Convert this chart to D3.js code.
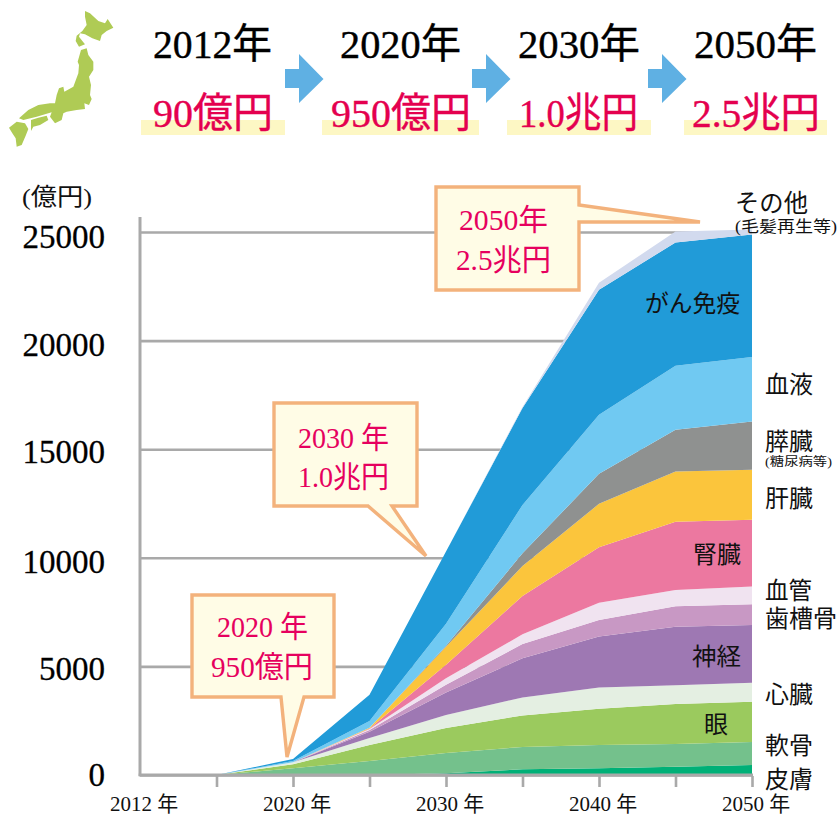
<!DOCTYPE html>
<html lang="ja"><head><meta charset="utf-8">
<script src="https://cdn.jsdelivr.net/npm/d3@7"></script>
<style>
html,body{margin:0;padding:0;background:#fff}
svg{display:block}
text{font-family:"Liberation Serif","Noto Sans CJK JP",serif}
</style></head><body>
<svg id="c" width="839" height="815"></svg>
<script>
// ---------- data (億円) ----------
const years = ["2012","2015","2020","2025","2030","2035","2040","2045","2050"];
const xTickLabels = {"2012":"2012 年","2020":"2020 年","2030":"2030 年","2040":"2040 年","2050":"2050 年"};
const yTicks = [0,5000,10000,15000,20000,25000];
const seriesNames = ["皮膚","軟骨","眼","心臓","神経","歯槽骨","血管","腎臓","肝臓","膵臓","血液","がん免疫","その他"];
const skin      = [0,0,0,0,80,260,310,380,460];
const cartilage = [0,0,309,650,935,1030,1075,1045,1060];
const eye       = [0,0,184,735,1150,1450,1660,1845,1855];
const heart     = [0,0,92,320,600,830,980,860,875];
const nerve     = [0,0,0,290,1030,1800,2350,2700,2660];
const alveolar  = [0,0,0,80,355,660,760,940,955];
const vessel    = [0,0,0,45,310,445,800,750,810];
const kidney    = [0,0,0,25,615,1765,2550,3135,3075];
const liver     = [0,0,0,25,830,1380,2000,2320,2305];
const pancreas  = [0,0,0,0,45,585,1380,1920,2225];
const blood     = [0,0,60,320,1015,2225,2720,2950,2970];
const cancer    = [0,0,92,1200,3320,4470,5760,5670,5635];
const other     = [0,0,0,0,0,45,320,505,230];
const seriesValues = [skin,cartilage,eye,heart,nerve,alveolar,vessel,kidney,liver,pancreas,blood,cancer,other];
const seriesColors = ["#00b077","#74c18c","#9bca5e","#e4efe2","#9e78b3","#c898c4","#f0e3f0","#ec78a0","#fbc53c","#8f9190","#70c9f2","#219bd8","#d2daee"];

const headerYears = ["2012年","2020年","2030年","2050年"];
const headerValues = ["90億円","950億円","1.0兆円","2.5兆円"];

// ---------- layout ----------
const svg = d3.select("#c");
const x = d3.scalePoint().domain(years).range([140,752]);
const y = d3.scaleLinear().domain([0,25000]).range([775,232]);
const RED="#e4004f", CALL="#e6005e", GREY="#a9a9a9", INK="#111";

function label(t,x0,x1,base,size,fill){
  return svg.append("text").attr("x",x0).attr("y",base).attr("font-size",size)
    .attr("fill",fill||INK).attr("textLength",x1-x0).attr("lengthAdjust","spacingAndGlyphs").text(t);
}

// ---------- header ----------
const mapShapes = [
 [[240,18],[255,25],[280,48],[300,55],[308,42],[325,68],[305,78],[290,90],[285,108],[262,100],[240,88],[225,85],[222,95],[232,108],[240,118],[222,125],[212,108],[215,92],[232,78],[245,60],[240,35]],
 [[228,135],[245,130],[250,150],[265,170],[265,195],[252,215],[258,240],[255,270],[260,282],[252,300],[238,295],[240,312],[215,315],[185,320],[175,325],[170,345],[150,355],[135,335],[140,322],[95,335],[55,345],[42,340],[70,315],[100,300],[135,295],[150,295],[155,270],[162,250],[175,245],[178,260],[205,245],[220,205],[222,180],[218,170]],
 [[78,345],[100,338],[125,332],[130,345],[105,360],[85,365],[78,378]],
 [[12,368],[35,350],[60,355],[70,372],[62,392],[50,420],[35,425],[32,400],[22,385]]
];
svg.append("g").selectAll("polygon").data(mapShapes).join("polygon")
  .attr("points",d=>d.map(p=>[5+p[0]/3,5+p[1]/3].join(",")).join(" ")).attr("fill","#afcb55");

const bands=[[141,285],[322,479],[507,651],[684,827]];
svg.append("g").selectAll("rect").data(bands).join("rect")
  .attr("x",d=>d[0]).attr("width",d=>d[1]-d[0]).attr("y",120).attr("height",15).attr("fill","#fdf7c4");
const arrows=[285,472,648];
svg.append("g").selectAll("polygon").data(arrows).join("polygon")
  .attr("points",a=>[[a,69],[a+14,69],[a+14,54],[a+38.5,79],[a+14,103],[a+14,88],[a,88]].map(p=>p.join(",")).join(" "))
  .attr("fill","#5fb0e3");
const yearPos=[[153,272],[340,461],[518,640],[694,817]];
const valPos=[[153,273],[331,471],[519,638],[692,820]];
headerYears.forEach((t,i)=>label(t,yearPos[i][0],yearPos[i][1],58,41,"#000").attr("stroke","#000").attr("stroke-width",0.4));
headerValues.forEach((t,i)=>label(t,valPos[i][0],valPos[i][1],127,41,RED).attr("stroke",RED).attr("stroke-width",0.4));

// ---------- axes ----------
const yLabelBase = {0:10,5000:13,10000:15,15000:13,20000:15,25000:15};
const yAxis = d3.axisLeft(y).tickValues(yTicks).tickSize(-612).tickPadding(35).tickFormat(d3.format("d"));
const gy = svg.append("g").attr("transform","translate(140,0)").call(yAxis);
gy.select(".domain").remove();
gy.selectAll("line").attr("stroke",GREY).attr("stroke-width",2.6);
gy.selectAll("text").attr("font-size",33).attr("fill","#000").attr("stroke","#000").attr("stroke-width",0.3)
  .attr("text-anchor","end").attr("x",-35).attr("dy",null).attr("y",d=>yLabelBase[d]);

// ---------- stacked areas ----------
const rows = years.map((yr,i)=>{const r={year:yr};seriesNames.forEach((n,k)=>r[n]=seriesValues[k][i]);return r;});
const stacked = d3.stack().keys(seriesNames)(rows);
const area = d3.area().x(d=>x(d.data.year)).y0(d=>y(d[0])).y1(d=>y(d[1]));
svg.append("g").selectAll("path").data(stacked).join("path")
  .attr("d",area).attr("fill",(d,i)=>seriesColors[i]);

const xAxis = d3.axisBottom(x).tickValues(years).tickSize(12).tickPadding(15).tickFormat(d=>xTickLabels[d]||"");
const gx = svg.append("g").attr("transform","translate(0,775)").call(xAxis);
gx.select(".domain").remove();
svg.append("line").attr("x1",138.7).attr("x2",753).attr("y1",775).attr("y2",775).attr("stroke",GREY).attr("stroke-width",3);
gx.selectAll("line").attr("stroke",GREY).attr("stroke-width",2.6).attr("y1",1);
gx.selectAll(".tick").filter(d=>d==="2012").select("line").remove();
gx.selectAll("text").attr("font-size",21).attr("fill","#111").attr("dx",3.5).attr("y",35.5).attr("dy",null).attr("text-anchor","middle");
svg.append("line").attr("x1",140).attr("x2",140).attr("y1",217).attr("y2",776).attr("stroke",GREY).attr("stroke-width",3);

label("(億円)",22,92,205,24);

// ---------- callouts ----------
function callout(pts,lines){
  svg.append("path").attr("d","M"+pts.map(p=>p.join(",")).join("L")+"Z")
    .attr("fill","#fffce6").attr("stroke","#f3b27c").attr("stroke-width",3.4).attr("stroke-linejoin","miter");
  lines.forEach(l=>label(l[0],l[1],l[2],l[3],30,CALL));
}
callout([[192,595],[334,595],[334,697],[304,697],[287,757],[281,697],[192,697]],
  [["2020 年",217,308,637],["950億円",211,313,677]]);
callout([[274,403],[417,403],[417,506],[392,506],[426,556],[368,506],[274,506]],
  [["2030 年",298,389,448],["1.0兆円",298,389,487]]);
callout([[436,187],[579,187],[579,205],[700,222],[579,222],[579,290],[436,290]],
  [["2050年",459,548,230],["2.5兆円",456,551,270]]);

// ---------- series labels ----------
label("その他",735,808,212,25);
label("(毛髪再生等)",735,837,232,16);
label("がん免疫",645,740,312,24);
label("血液",765,813,393,24);
label("膵臓",765,813,450,24);
label("(糖尿病等)",765,832,466,12);
label("肝臓",765,813,507,24);
label("腎臓",693,741,563,24);
label("血管",765,812,599,24);
label("歯槽骨",765,837,627,24);
label("神経",692,741,665,24);
label("心臓",765,813,703,24);
label("眼",704,728,733,24);
label("軟骨",765,813,754,24);
label("皮膚",765,813,788,24);
</script></body></html>
